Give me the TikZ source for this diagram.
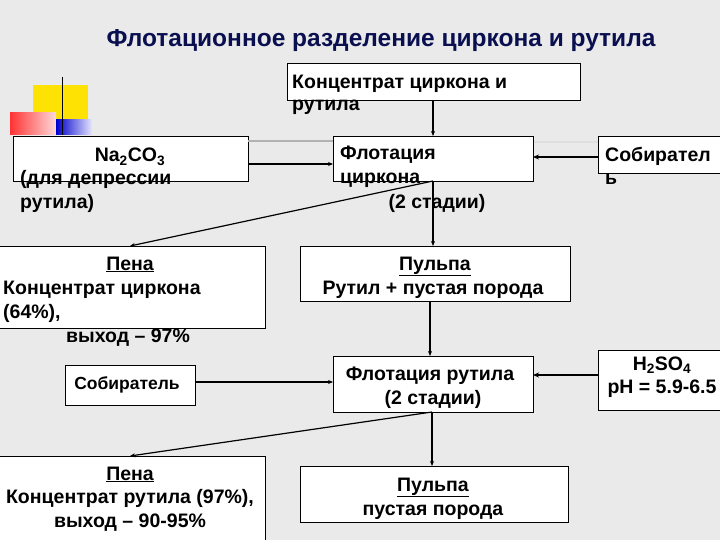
\documentclass[tikz,border=0pt]{standalone}
\usepackage{fontspec}
\setmainfont{Liberation Sans}
\usetikzlibrary{arrows.meta}
\begin{document}
\begin{tikzpicture}[x=1pt,y=-1pt,
  box/.style={draw=black,fill=white,line width=0.8pt},
  txt/.style={inner sep=0pt,font=\bfseries\fontsize{19.5}{22}\selectfont,anchor=base},
  arr/.style={line width=1.2pt,-{Stealth[length=5pt,width=4pt]}},
  thick arr/.style={line width=2.2pt,-{Stealth[length=6pt,width=5pt]}}]
\useasboundingbox[fill={rgb,255:red,234;green,234;blue,234}] (0,0) rectangle (720,540);
% decoration
\fill[yellow!85!orange] (33,85) rectangle (88,122);
\shade[left color=red!80,right color=red!15] (10,113) rectangle (56,135);
\shade[left color=blue!80!black,right color=blue!10] (56,120) rectangle (92,135);
\draw[line width=1pt] (62,77) -- (62,135);
\node[inner sep=0pt,anchor=base,text={rgb,255:red,10;green,15;blue,80},font=\bfseries\fontsize{24.5}{28}\selectfont] (title) at (381,47) {Флотационное разделение циркона и рутила};
% boxes
\draw[box] (287,63) rectangle (580,100);
\coordinate (topB) at (433,100);
\node[txt,anchor=base west] (t1) at (292,89) {Концентрат циркона и};
\node[txt,anchor=base west] (t2) at (292,111) {рутила};
\draw[box] (13,136) rectangle (248,181);
\coordinate (naR) at (248,164);
\node[txt] (na) at (130,162) {Na$_\mathbf{2}$CO$_\mathbf{3}$};
\node[txt,anchor=base west] (na2) at (20,185) {(для депрессии};
\node[txt,anchor=base west] (na3) at (20,208) {рутила)};
\draw[line width=2pt,gray!60] (248,141) -- (333,141);
\draw[line width=2pt,gray!25] (533,142) -- (598,142);
\draw[box] (333,136) rectangle (533,181);
\coordinate (fzT) at (433,136); \coordinate (fzB) at (433,181);
\coordinate (fzL) at (333,164); \coordinate (fzR) at (533,157);
\node[txt,anchor=base west] (fz1) at (340,160) {Флотация};
\node[txt,anchor=base west] (fz2) at (340,184) {циркона};
\node[txt] (fz3) at (437,208) {(2 стадии)};
\draw[box] (598,136) rectangle (725,173);
\coordinate (sbL) at (598,157);
\node[txt,anchor=base west] (sb1) at (605,162) {Собирател};
\node[txt,anchor=base west] (sb2) at (605,185) {ь};
\draw[box] (-2,246) rectangle (265,328);
\coordinate (p1T) at (130,246);
\node[txt] (p1a) at (130,270) {\underline{Пена}};
\node[txt,anchor=base west] (p1b) at (3,294) {Концентрат циркона};
\node[txt,anchor=base west] (p1c) at (3,318) {(64\%),};
\node[txt] (p1d) at (128,342) {выход – 97\%};
\draw[box] (300,246) rectangle (570,301);
\coordinate (u1T) at (433,246); \coordinate (u1B) at (430,301);
\node[txt] (u1a) at (435,270) {\underline{Пульпа}};
\node[txt] (u1b) at (433,294) {Рутил + пустая порода};
\draw[box] (65,365) rectangle (195,405);
\coordinate (s2R) at (195,382);
\node[txt] (s2) at (127,389) {\fontsize{17.5}{20}\selectfont Собиратель};
\draw[box] (333,356) rectangle (533,412);
\coordinate (frT) at (430,356); \coordinate (frB) at (432,412);
\coordinate (frL) at (333,382); \coordinate (frR) at (533,375);
\node[txt] (fr1) at (430,380) {Флотация рутила};
\node[txt] (fr2) at (433,404) {(2 стадии)};
\draw[box] (598,350) rectangle (725,410);
\coordinate (hL) at (598,375);
\node[txt] (h1) at (662,370) {H$_\mathbf{2}$SO$_\mathbf{4}$};
\node[txt] (h2) at (662,393) {pH = 5.9-6.5};
\draw[box] (-2,456) rectangle (265,540);
\coordinate (p2T) at (130,456);
\node[txt] (p2a) at (130,480) {\underline{Пена}};
\node[txt] (p2b) at (130,503) {Концентрат рутила (97\%),};
\node[txt] (p2c) at (130,527) {выход – 90-95\%};
\draw[box] (300,466) rectangle (568,522);
\coordinate (u2T) at (432,466);
\node[txt] (u2a) at (433,491) {\underline{Пульпа}};
\node[txt] (u2b) at (433,515) {пустая порода};
% arrows
\draw[arr] (topB) -- (fzT);
\draw[arr] (naR) -- (fzL);
\draw[thick arr] (sbL) -- (fzR);
\draw[arr] (fzB) -- (p1T);
\draw[arr] (fzB) -- (u1T);
\draw[arr] (u1B) -- (frT);
\draw[arr] (s2R) -- (frL);
\draw[thick arr] (hL) -- (frR);
\draw[arr] (frB) -- (p2T);
\draw[arr] (frB) -- (u2T);
\end{tikzpicture}
\end{document}
